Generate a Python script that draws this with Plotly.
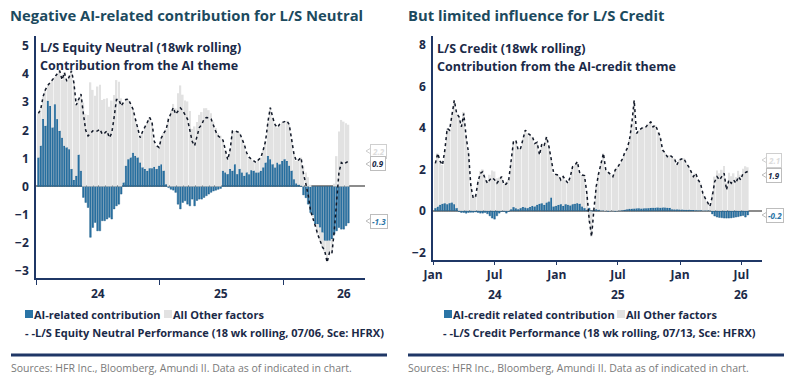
import pandas as pd
import plotly.graph_objects as go

# ---------------- data ----------------
ai_left = [1.03, 1.45, 2.4, 2.16, 3.05, 2.87, 2.1, 2.93, 2.4, 1.98,
           1.74, 1.45, 1.39, 1.33, 0.62, 0.23, 0.38, 1.13, 0.56, -0.39,
           -0.57, -0.75, -1.81, -1.46, -1.28, -1.58, -1.58, -1.22, -1.22, -1.16,
           -1.1, -1.16, -0.8, -0.69, -0.63, -0.27, 0.14, 0.74, 0.97, 1.03,
           1.2, 1.09, 1.03, 0.85, 0.68, 0.62, 0.56, 0.65, 0.65, 0.7,
           0.62, 0.74, 0.79, 0.56, 0.08, -0.04, -0.1, -0.13, -0.21, -0.63,
           -0.8, -0.57, -0.51, -0.63, -0.69, -0.45, -0.69, -0.5, -0.45, -0.45,
           -0.39, -0.33, -0.27, -0.21, -0.16, -0.13, -0.1, -0.07, 0.56, 0.5,
           0.44, 0.62, 0.56, 0.79, 0.44, 0.62, 0.5, 0.38, 0.5, 0.44,
           0.58, 0.56, 0.5, 0.5, 0.56, 0.68, 0.85, 1.09, 0.97, 0.79,
           0.68, 0.85, 0.79, 0.91, 0.97, 0.91, 0.74, 0.56, 0.26, 0.11,
           0.06, 0.03, -0.3, -0.4, -0.63, -0.93, -1.04, -1.34, -1.34, -1.46,
           -1.64, -1.93, -1.93, -1.93, -1.87, -1.7, -1.58, -1.46, -1.52, -1.52,
           -1.4, -1.3]
perf_left = [2.6, 2.75, 3.2, 3.45, 3.6, 3.7, 3.8, 3.9, 4.0, 4.12,
             3.8, 4.06, 3.75, 3.9, 4.12, 3.7, 2.9, 3.1, 3.29, 2.6,
             2.0, 1.8, 1.9, 1.98, 1.95, 1.98, 2.04, 1.86, 1.9, 1.98,
             1.74, 1.9, 2.46, 3.1, 3.1, 2.87, 3.0, 3.1, 3.11, 2.9,
             2.75, 2.4, 2.1, 1.74, 1.95, 2.1, 2.28, 2.46, 2.3, 1.6,
             1.45, 1.39, 1.74, 1.9, 2.04, 2.4, 2.6, 2.81, 2.57, 2.69,
             2.8, 2.7, 2.55, 2.4, 2.0, 1.6, 1.45, 1.8, 2.1, 2.2,
             2.4, 2.46, 2.45, 2.4, 2.15, 1.95, 1.8, 1.74, 1.65, 1.3,
             0.95, 1.3, 1.98, 1.98, 1.95, 1.92, 1.7, 1.5, 1.2, 1.05,
             0.97, 0.9, 0.85, 0.95, 1.03, 1.3, 1.62, 2.31, 2.81, 2.46,
             2.2, 2.1, 2.22, 2.28, 2.3, 2.34, 2.2, 1.7, 1.15, 0.91,
             0.95, 1.03, 0.45, 0.1, -0.3, -0.87, -1.1, -1.4, -1.7, -1.95,
             -2.15, -2.3, -2.7, -2.35, -2.4, -1.6, -0.5, 0.5, 0.85, 0.79,
             0.85, 0.9]

ai_right = [0.13, 0.2, 0.29, 0.34, 0.37, 0.32, 0.37, 0.4, 0.32, 0.13,
            -0.03, -0.08, -0.08, -0.11, -0.08, -0.07, -0.07, -0.05, -0.08, -0.11,
            -0.11, -0.08, -0.14, -0.24, -0.35, -0.4, -0.24, -0.11, -0.03, -0.03,
            -0.11, -0.03, 0.08, 0.18, 0.13, 0.08, 0.13, 0.18, 0.16, 0.13,
            0.18, 0.24, 0.21, 0.29, 0.34, 0.37, 0.29, 0.4, 0.45, 0.64,
            0.21, 0.24, 0.29, 0.32, 0.24, 0.32, 0.29, 0.26, 0.32, 0.34,
            0.37, 0.34, 0.21, 0.13, 0.05, 0.13, -0.03, 0.05, 0.08, 0.05,
            0.02, 0.02, 0.0, -0.02, 0.0, 0.01, -0.02, 0.0, 0.02, 0.03,
            0.05, 0.08, 0.1, 0.1, 0.11, 0.12, 0.12, 0.11, 0.12, 0.12,
            0.13, 0.14, 0.15, 0.15, 0.16, 0.15, 0.16, 0.16, 0.15, 0.14,
            0.08, 0.07, 0.07, 0.06, 0.06, 0.05, 0.05, 0.05, 0.04, 0.04,
            0.03, 0.03, 0.03, 0.02, 0.02, 0.02, 0.02, -0.15, -0.25, -0.3,
            -0.32, -0.33, -0.35, -0.35, -0.35, -0.34, -0.32, -0.3, -0.28, -0.25,
            -0.22, -0.3, -0.2]
perf_right = [2.29, 2.77, 2.4, 2.21, 2.93, 3.97, 3.89, 4.69, 5.33, 4.69,
              4.53, 4.05, 4.69, 3.57, 2.8, 1.2, 0.61, 0.69, 1.4, 1.81,
              1.89, 1.55, 1.33, 1.5, 1.6, 1.5, 1.33, 1.49, 1.65, 1.25,
              1.3, 1.49, 2.29, 3.33, 3.41, 2.93, 3.01, 3.49, 3.89, 3.75,
              3.65, 3.57, 3.25, 3.3, 2.69, 3.25, 3.17, 3.57, 3.09, 2.5,
              1.81, 1.75, 1.73, 1.49, 1.65, 1.49, 1.33, 1.65, 2.13, 2.21,
              2.37, 1.81, 1.73, 1.7, 0.85, -0.43, -1.24, 0.1, 1.2, 1.8,
              2.29, 2.77, 1.97, 1.85, 1.75, 1.65, 1.97, 2.1, 2.29, 2.5,
              2.8, 3.0, 3.41, 4.21, 5.33, 3.73, 3.89, 3.95, 4.05, 4.05,
              4.2, 4.29, 4.05, 4.13, 3.8, 3.57, 2.93, 2.8, 2.61, 2.69,
              2.6, 2.53, 2.21, 2.45, 2.5, 2.53, 2.29, 2.13, 1.9, 1.65,
              1.81, 1.5, 1.33, 0.85, 0.61, 0.4, 0.21, 0.69, 1.4, 1.65,
              1.49, 1.65, 1.81, 1.01, 1.49, 1.33, 1.49, 1.33, 1.65, 1.49,
              1.81, 1.85, 1.9]

start_date = "2024-01-08"
left_yticks = [-3, -2, -1, 0, 1, 2, 3, 4, 5]
right_yticks = [-2, 0, 2, 4, 6, 8]
year_labels = ["24", "25", "26"]
year_label_dates = ["2024-07-01", "2025-07-01", "2026-07-01"]
right_month_ticks = ["2024-01-01", "2024-07-01", "2025-01-01", "2025-07-01", "2026-01-01", "2026-07-01"]
right_month_labels = ["Jan", "Jul", "Jan", "Jul", "Jan", "Jul"]

dates_left = pd.date_range(start_date, periods=len(ai_left), freq="7D")
dates_right = pd.date_range(start_date, periods=len(ai_right), freq="7D")
other_left = [round(p - a, 3) for p, a in zip(perf_left, ai_left)]
other_right = [round(p - a, 3) for p, a in zip(perf_right, ai_right)]

# ---------------- style ----------------
W, H = 800, 384
FONT = "Open Sans"
NAVY = "#1b2a48"
TEAL = "#1c4a5e"
BLUE = "#2a74a6"
GREY = "#e2e2e2"
AXIS = "#1f3766"


def X(px):
    return px / W


def Y(py):
    return 1 - py / H


fig = go.Figure()

for dates, ai, other, perf, xa, ya in [
    (dates_left, ai_left, other_left, perf_left, "x", "y"),
    (dates_right, ai_right, other_right, perf_right, "x2", "y2"),
]:
    fig.add_trace(go.Bar(x=dates, y=ai, marker=dict(color=BLUE, line=dict(color="#1a5580", width=0.4)),
                         xaxis=xa, yaxis=ya, showlegend=False))
    fig.add_trace(go.Bar(x=dates, y=other, marker=dict(color=GREY, line=dict(width=0)),
                         xaxis=xa, yaxis=ya, showlegend=False))
    fig.add_trace(go.Scatter(x=dates, y=perf, mode="lines",
                             line=dict(color="#111827", width=1.5, dash="3px,3px"),
                             xaxis=xa, yaxis=ya, showlegend=False))

tickfont = dict(family=FONT, size=12, color=NAVY, weight="bold")
xrange_ = ["2024-01-01", "2026-08-31"]

fig.update_layout(
    template="none",
    width=W, height=H, margin=dict(l=0, r=0, t=0, b=0, autoexpand=False),
    paper_bgcolor="white", plot_bgcolor="white",
    barmode="relative", bargap=0.3,
    font=dict(family=FONT, color=NAVY),
    xaxis=dict(domain=[X(36), X(365)], range=xrange_, type="date", automargin=False,
               tickvals=["2024-01-01", "2025-01-01", "2026-01-01"], ticktext=["", "", ""],
               ticks="outside", ticklen=5, tickcolor=AXIS, tickwidth=1,
               showline=True, linecolor=AXIS, linewidth=2, showgrid=False, zeroline=False,
               anchor="y"),
    yaxis=dict(domain=[Y(278), Y(36)], range=[-3.26, 5.36], tickvals=left_yticks, automargin=False,
               ticks="outside", ticklen=3, tickcolor="rgba(0,0,0,0)",
               tickfont=tickfont, showline=True, linecolor=AXIS, linewidth=1.5,
               showgrid=False, zeroline=True, zerolinecolor="#8c8c8c", zerolinewidth=1.5,
               anchor="x"),
    xaxis2=dict(domain=[X(433), X(762)], range=xrange_, type="date", automargin=False,
                tickvals=right_month_ticks, ticktext=right_month_labels,
                ticks="outside", ticklen=3, tickcolor=AXIS, tickfont=tickfont,
                showline=True, linecolor=AXIS, linewidth=2, showgrid=False, zeroline=False,
                anchor="y2"),
    yaxis2=dict(domain=[Y(260), Y(36)], range=[-2.37, 8.43], tickvals=right_yticks, automargin=False,
                ticks="outside", ticklen=3, tickcolor="rgba(0,0,0,0)",
                tickfont=tickfont, showline=True, linecolor=AXIS, linewidth=1.5,
                showgrid=False, zeroline=True, zerolinecolor="#8c8c8c", zerolinewidth=1.5,
                anchor="x2"),
)

ann = []
shapes = []


def text(px, py, s, size=11, color=NAVY, weight="normal", anchor="left", style="normal"):
    ann.append(dict(x=X(px), y=Y(py), xref="paper", yref="paper", text=s, showarrow=False,
                    xanchor=anchor, yanchor="middle", borderpad=0,
                    font=dict(family=FONT, size=size, color=color, weight=weight, style=style)))


# titles
text(9, 15, "Negative AI-related contribution for L/S Neutral", size=14.8, color=TEAL, weight="bold")
text(407, 15, "But limited influence for L/S Credit", size=14.8, color=TEAL, weight="bold")

# inner labels
text(39, 47, "L/S Equity Neutral (18wk rolling)", size=12.5, weight="bold")
text(39, 65, "Contribution from the AI theme", size=12.5, weight="bold")
text(436, 49, "L/S Credit (18wk rolling)", size=12.5, weight="bold")
text(436, 67, "Contribution from the AI-credit theme", size=12.5, weight="bold")

# year labels
for xr, yy in [("x", 293), ("x2", 294)]:
    for lbl, d in zip(year_labels, year_label_dates):
        ann.append(dict(x=d, y=Y(yy), xref=xr, yref="paper", text=lbl, showarrow=False,
                        xanchor="center", yanchor="middle", font=tickfont))


# legends
def square(px, py, color):
    shapes.append(dict(type="rect", xref="paper", yref="paper", x0=X(px), x1=X(px + 8),
                       y0=Y(py + 4), y1=Y(py - 4), fillcolor=color, line=dict(width=0)))


LEG = 11
square(25, 314, BLUE)
text(33, 314, "AI-related contribution", size=LEG, weight="bold")
square(164, 314, GREY)
text(172, 314, "All Other factors", size=LEG, weight="bold")
text(24, 332, "- -L/S Equity Neutral Performance (18 wk rolling, 07/06, Sce: HFRX)", size=LEG, weight="bold")

square(444, 314, BLUE)
text(452, 314, "AI-credit related contribution", size=LEG, weight="bold")
square(617, 314, GREY)
text(625, 314, "All Other factors", size=LEG, weight="bold")
text(442, 332, "- -L/S Credit Performance (18 wk rolling, 07/13, Sce: HFRX)", size=LEG, weight="bold")

# separators
for x0, x1 in [(11, 387), (408, 784)]:
    shapes.append(dict(type="line", xref="paper", yref="paper", x0=X(x0), x1=X(x1),
                       y0=Y(355), y1=Y(355), line=dict(color=AXIS, width=3)))

# sources
src = "Sources: HFR Inc., Bloomberg, Amundi II. Data as of indicated in chart."
text(10, 368, src, size=10.5, color="#7a7a7a")
text(407, 368, src, size=10.5, color="#7a7a7a")


# end-value callouts
def callout(px, py, s, color, border):
    ann.append(dict(x=X(px), y=Y(py), xref="paper", yref="paper", text=s, showarrow=False,
                    xanchor="left", yanchor="middle", bgcolor="white", bordercolor=border,
                    borderwidth=1, borderpad=1,
                    font=dict(family=FONT, size=8, color=color, weight="bold", style="italic")))
    shapes.append(dict(type="path", xref="paper", yref="paper",
                       path=f"M {X(px+1)},{Y(py-3)} L {X(px-4)},{Y(py)} L {X(px+1)},{Y(py+3)}",
                       fillcolor="white", line=dict(color=border, width=1)))


callout(370, 151, f"{other_left[-1]:.1f}", "#dcdcdc", "#cfcfcf")
callout(370, 164, f"{perf_left[-1]:.1f}", NAVY, "#bdbdbd")
callout(370, 221, f"{ai_left[-1]:.1f}", BLUE, "#bdbdbd")
callout(766, 160, f"{other_right[-1]:.1f}", "#dcdcdc", "#cfcfcf")
callout(766, 175, f"{perf_right[-1]:.1f}", NAVY, "#bdbdbd")
callout(766, 215, f"{ai_right[-1]:.1f}", BLUE, "#bdbdbd")

fig.update_layout(annotations=ann, shapes=shapes)
fig.write_html("out.html")
